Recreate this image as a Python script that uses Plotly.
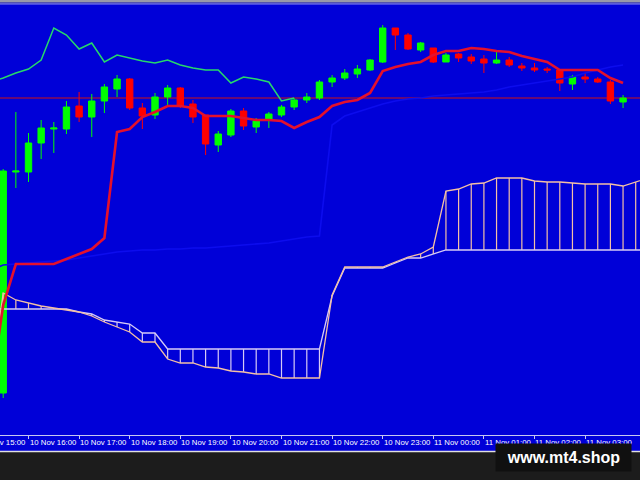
import pandas as pd
import plotly.graph_objects as go

# ---------------- data ----------------
BAR_START = "2022-11-10 15:30"      # first visible 15-minute bar
IND_START = "2022-11-10 15:15"      # indicator arrays start one bar earlier
X_RANGE = ["2022-11-10 15:26:12", "2022-11-11 04:05:06"]
Y_RANGE = [0.9999, 1.0430]
HOUR_TICKS = pd.date_range("2022-11-10 15:00", "2022-11-11 03:00", freq="1h")

open_ = [1.0041, 1.0262, 1.0262, 1.0291, 1.0305, 1.0305, 1.0328, 1.0317, 1.0333, 1.0345,
         1.0355, 1.0326, 1.0319, 1.0337, 1.0346, 1.0330, 1.0319, 1.0289, 1.0299, 1.0323,
         1.0307, 1.0314, 1.0319, 1.0327, 1.0334, 1.0336, 1.0352, 1.0356, 1.0360, 1.0364,
         1.0372, 1.0406, 1.0399, 1.0384, 1.0386, 1.0372, 1.0380, 1.0377, 1.0375, 1.0371,
         1.0374, 1.0368, 1.0366, 1.0365, 1.0364, 1.0350, 1.0357, 1.0355, 1.0352, 1.0332]
high = [1.0265, 1.0322, 1.0301, 1.0314, 1.0312, 1.0333, 1.0342, 1.0340, 1.0350, 1.0359,
        1.0356, 1.0331, 1.0341, 1.0349, 1.0347, 1.0334, 1.0319, 1.0303, 1.0325, 1.0326,
        1.0316, 1.0322, 1.0329, 1.0336, 1.0341, 1.0354, 1.0359, 1.0365, 1.0369, 1.0375,
        1.0409, 1.0406, 1.0401, 1.0392, 1.0386, 1.0381, 1.0381, 1.0380, 1.0379, 1.0382,
        1.0377, 1.0371, 1.0371, 1.0367, 1.0365, 1.0359, 1.0361, 1.0357, 1.0354, 1.0339]
low = [1.0036, 1.0246, 1.0252, 1.0275, 1.0281, 1.0300, 1.0312, 1.0297, 1.0321, 1.0337,
       1.0324, 1.0305, 1.0315, 1.0328, 1.0326, 1.0311, 1.0279, 1.0282, 1.0297, 1.0304,
       1.0301, 1.0306, 1.0317, 1.0324, 1.0331, 1.0334, 1.0347, 1.0354, 1.0356, 1.0363,
       1.0371, 1.0384, 1.0384, 1.0382, 1.0371, 1.0372, 1.0372, 1.0370, 1.0361, 1.0370,
       1.0367, 1.0363, 1.0362, 1.0361, 1.0343, 1.0344, 1.0351, 1.0351, 1.0330, 1.0326]
close = [1.0263, 1.0263, 1.0291, 1.0306, 1.0306, 1.0327, 1.0317, 1.0333, 1.0347, 1.0355,
         1.0326, 1.0318, 1.0337, 1.0346, 1.0328, 1.0317, 1.0290, 1.0300, 1.0323, 1.0308,
         1.0313, 1.0320, 1.0327, 1.0334, 1.0337, 1.0352, 1.0356, 1.0361, 1.0365, 1.0374,
         1.0406, 1.0399, 1.0385, 1.0391, 1.0372, 1.0379, 1.0376, 1.0373, 1.0371, 1.0374,
         1.0369, 1.0366, 1.0364, 1.0364, 1.0351, 1.0357, 1.0355, 1.0352, 1.0333, 1.0336]

# Ichimoku lines (from bar -1)
tenkan = [1.0042, 1.0129, 1.0170, 1.0170, 1.0170, 1.0170, 1.0175, 1.0180, 1.0185, 1.0196,
          1.0302, 1.0305, 1.0317, 1.0322, 1.0328, 1.0328, 1.0326, 1.0318, 1.0318, 1.0318,
          1.0316, 1.0314, 1.0314, 1.0313, 1.0306, 1.0312, 1.0317, 1.0328, 1.0332, 1.0334,
          1.0341, 1.0363, 1.0367, 1.0370, 1.0372, 1.0379, 1.0383, 1.0383, 1.0386, 1.0385,
          1.0383, 1.0382, 1.0378, 1.0375, 1.0372, 1.0364, 1.0364, 1.0364, 1.0364, 1.0356,
          1.0351]
kijun = [1.0164, 1.0169, 1.0170, 1.0171, 1.0172, 1.0173, 1.0174, 1.0176, 1.0178, 1.0180,
         1.0182, 1.0183, 1.0184, 1.0184, 1.0185, 1.0185, 1.0186, 1.0186, 1.0187, 1.0188,
         1.0189, 1.0190, 1.0191, 1.0193, 1.0195, 1.0197, 1.0198, 1.0309, 1.0318, 1.0322,
         1.0326, 1.0330, 1.0333, 1.0335, 1.0336, 1.0338, 1.0339, 1.0340, 1.0341, 1.0342,
         1.0344, 1.0347, 1.0349, 1.0351, 1.0353, 1.0355, 1.0357, 1.0361, 1.0364, 1.0367,
         1.0369]
span_a = [1.0049, 1.0141, 1.0134, 1.0131, 1.0128, 1.0126, 1.0124, 1.0122, 1.0118, 1.0112,
          1.0107, 1.0102, 1.0092, 1.0092, 1.0075, 1.0071, 1.0071, 1.0067, 1.0066, 1.0063,
          1.0062, 1.0060, 1.0060, 1.0056, 1.0056, 1.0056, 1.0056, 1.0139, 1.0167, 1.0167,
          1.0167, 1.0167, 1.0172, 1.0177, 1.0180, 1.0187, 1.0243, 1.0245, 1.0250, 1.0251,
          1.0256, 1.0256, 1.0256, 1.0253, 1.0252, 1.0252, 1.0251, 1.0250, 1.0250, 1.0250,
          1.0248, 1.0252, 1.0256]
span_b = [1.0125, 1.0125, 1.0125, 1.0125, 1.0125, 1.0125, 1.0125, 1.0122, 1.0120, 1.0114,
          1.0112, 1.0110, 1.0101, 1.0101, 1.0085, 1.0085, 1.0085, 1.0085, 1.0085, 1.0085,
          1.0085, 1.0085, 1.0085, 1.0085, 1.0085, 1.0085, 1.0085, 1.0138, 1.0166, 1.0166,
          1.0166, 1.0166, 1.0171, 1.0176, 1.0176, 1.0180, 1.0184, 1.0184, 1.0184, 1.0184,
          1.0184, 1.0184, 1.0184, 1.0184, 1.0184, 1.0184, 1.0184, 1.0184, 1.0184, 1.0184,
          1.0184, 1.0184, 1.0184]

# ---------------- styles ----------------
BG = "#0000D8"
GREEN = "#00FF00"
RED = "#FF0000"
TENKAN_C = "#E4102C"
KIJUN_C = "#0C0CEE"
CHIKOU_C = "#26D86A"
SPAN_A_C = "#F4C0A4"
SPAN_B_C = "#D6CAF6"
FONT = "Liberation Sans"

times = pd.date_range(BAR_START, periods=len(close), freq="15min")
ind_times = pd.date_range(IND_START, periods=len(span_a), freq="15min")
line_times = ind_times[:len(tenkan)]
chikou = close[25:]                      # close shifted back 26 bars
chikou_times = ind_times[:len(chikou)]

fig = go.Figure()

fig.add_trace(go.Candlestick(
    x=times, open=open_, high=high, low=low, close=close,
    increasing=dict(line=dict(color=GREEN, width=1), fillcolor=GREEN),
    decreasing=dict(line=dict(color=RED, width=1), fillcolor=RED),
    whiskerwidth=0, hoverinfo="skip"))

# cloud hatching (vertical segments between the spans)
vx_a, vy_a, vx_b, vy_b = [], [], [], []
for t, a, b in zip(ind_times, span_a, span_b):
    if a >= b:
        vx_a += [t, t, None]; vy_a += [a, b, None]
    else:
        vx_b += [t, t, None]; vy_b += [a, b, None]
fig.add_trace(go.Scatter(x=vx_a, y=vy_a, mode="lines",
                         line=dict(color=SPAN_A_C, width=1.2), hoverinfo="skip"))
fig.add_trace(go.Scatter(x=vx_b, y=vy_b, mode="lines",
                         line=dict(color=SPAN_B_C, width=1.2), hoverinfo="skip"))
fig.add_trace(go.Scatter(x=ind_times, y=span_b, mode="lines",
                         line=dict(color=SPAN_B_C, width=1.3), hoverinfo="skip"))
fig.add_trace(go.Scatter(x=ind_times, y=span_a, mode="lines",
                         line=dict(color=SPAN_A_C, width=1.3), hoverinfo="skip"))
fig.add_trace(go.Scatter(x=line_times, y=kijun, mode="lines",
                         line=dict(color=KIJUN_C, width=1.6), hoverinfo="skip"))
fig.add_trace(go.Scatter(x=line_times, y=tenkan, mode="lines",
                         line=dict(color=TENKAN_C, width=2.6), hoverinfo="skip"))
fig.add_trace(go.Scatter(x=chikou_times, y=chikou, mode="lines",
                         line=dict(color=CHIKOU_C, width=1.5), hoverinfo="skip"))

# bid line
fig.add_shape(type="line", xref="paper", x0=0, x1=1, yref="y",
              y0=close[-1], y1=close[-1], line=dict(color="#D01010", width=1),
              layer="below")

# window chrome
fig.add_shape(type="rect", xref="paper", x0=0, x1=1, yref="paper", ysizemode="pixel",
              yanchor=1, y0=1.5, y1=6, fillcolor="#9898A8", line_width=0)
fig.add_shape(type="rect", xref="paper", x0=0, x1=1, yref="paper", ysizemode="pixel",
              yanchor=1, y0=0.5, y1=1.5, fillcolor="#5858A0", line_width=0)
fig.add_shape(type="rect", xref="paper", x0=0, x1=1, yref="paper", ysizemode="pixel",
              yanchor=1, y0=-0.5, y1=0.5, fillcolor="#8C8CF0", line_width=0)
fig.add_shape(type="rect", xref="paper", x0=0, x1=1, yref="paper", ysizemode="pixel",
              yanchor=0, y0=-17, y1=-60, fillcolor="#1C1C1C", line_width=0)
fig.add_shape(type="line", xref="paper", x0=0, x1=1, yref="paper", ysizemode="pixel",
              yanchor=0, y0=-16.5, y1=-16.5, line=dict(color="#E0E0E0", width=1.5))

# time labels, left-aligned at their ticks (MT4 style)
r0, r1 = pd.Timestamp(X_RANGE[0]), pd.Timestamp(X_RANGE[1])
for t in HOUR_TICKS:
    fig.add_annotation(x=(t - r0) / (r1 - r0), xref="paper", y=0, yref="paper",
                       xanchor="left", yanchor="top", yshift=-1, xshift=-1,
                       showarrow=False, text=t.strftime("%d %b %H:%M"),
                       font=dict(family=FONT, size=7.8, color="#FFFFFF"))

# watermark
fig.add_annotation(x=563.5 / 640, xref="paper", y=-22 / 431, yref="paper",
                   xanchor="center", yanchor="middle", showarrow=False,
                   text="<b>www.mt4.shop</b>", width=133, height=25,
                   bgcolor="#101010", font=dict(family=FONT, size=16, color="#FFFFFF"))

fig.update_layout(
    width=640, height=480,
    margin=dict(l=0, r=0, t=4, b=45, pad=0, autoexpand=False),
    paper_bgcolor=BG, plot_bgcolor=BG, showlegend=False, boxgap=0.28,
    hovermode=False,
    xaxis=dict(type="date", range=X_RANGE, rangeslider=dict(visible=False),
               automargin=False,
               showgrid=False, zeroline=False, showline=True, linecolor="#C8C8F0",
               linewidth=1, ticks="outside", ticklen=3, tickcolor="#C8C8F0",
               tickvals=list(HOUR_TICKS), showticklabels=False, fixedrange=True),
    yaxis=dict(range=Y_RANGE, showgrid=False, zeroline=False, visible=False,
               automargin=False),
)

fig.write_html("out.html", config={"displayModeBar": False},
               post_script="document.body.style.margin='0px';")
